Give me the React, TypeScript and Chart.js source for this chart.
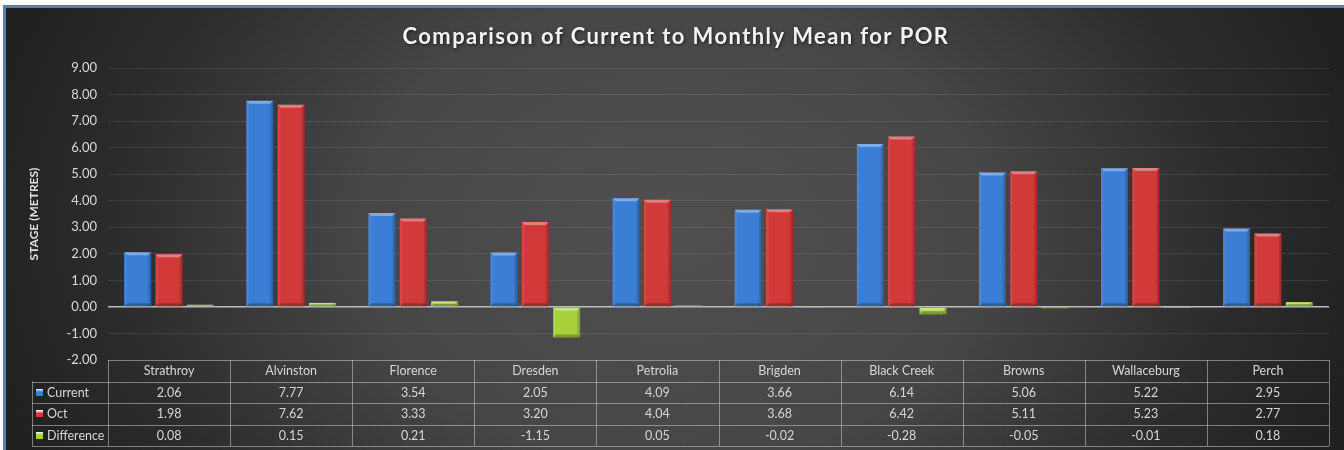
import React, { useEffect, useRef } from "react";
import { Chart, registerables } from "chart.js";

Chart.register(...registerables);

const TITLE = "Comparison of Current to Monthly Mean for POR";
const Y_TITLE = "STAGE (METRES)";
const categories = ["Strathroy", "Alvinston", "Florence", "Dresden", "Petrolia", "Brigden", "Black Creek", "Browns", "Wallaceburg", "Perch"];
const currentValues = [2.06, 7.77, 3.54, 2.05, 4.09, 3.66, 6.14, 5.06, 5.22, 2.95];
const octValues = [1.98, 7.62, 3.33, 3.2, 4.04, 3.68, 6.42, 5.11, 5.23, 2.77];
const differenceValues = [0.08, 0.15, 0.21, -1.15, 0.05, -0.02, -0.28, -0.05, -0.01, 0.18];
const seriesNames = ["Current", "Oct", "Difference"];
const seriesColors = ["#3b7ed6", "#d23a3a", "#a8d13c"];

const FONT = "Lato, 'Open Sans', sans-serif";

const backgroundPlugin = {
  id: "bgPlugin",
  beforeDraw(chart: any) {
    const { ctx, width, height } = chart;
    ctx.save();
    ctx.fillStyle = "#ffffff";
    ctx.fillRect(0, 0, width, height);
    ctx.fillStyle = "#4f81bd";
    ctx.fillRect(3, 5, width - 3, height - 5);
    ctx.beginPath();
    ctx.rect(6, 8, width - 6, height - 8);
    ctx.clip();
    const cx = 672, cy = 230;
    ctx.translate(cx, cy);
    ctx.scale(1, 0.75);
    const g = ctx.createRadialGradient(0, 0, 0, 0, 0, 700);
    g.addColorStop(0, "#505050");
    g.addColorStop(0.45, "#464646");
    g.addColorStop(0.8, "#2c2c2c");
    g.addColorStop(1, "#212121");
    ctx.fillStyle = g;
    ctx.fillRect(-cx - 10, -cy / 0.75 - 10, width + 30, height / 0.75 + 20);
    ctx.restore();

    // title
    ctx.save();
    ctx.fillStyle = "#f2f2f2";
    ctx.font = `bold 22px ${FONT}`;
    (ctx as any).letterSpacing = "1.4px";
    ctx.textAlign = "center";
    ctx.textBaseline = "middle";
    ctx.shadowColor = "rgba(0,0,0,0.6)";
    ctx.shadowBlur = 3;
    ctx.shadowOffsetX = 1;
    ctx.shadowOffsetY = 1;
    ctx.fillText(TITLE, width / 2 + 4, 37);
    ctx.restore();

    // y title
    ctx.save();
    ctx.fillStyle = "#e0e0e0";
    ctx.font = `bold 12px ${FONT}`;
    ctx.translate(34, (chart.chartArea.top + chart.chartArea.bottom) / 2);
    ctx.rotate(-Math.PI / 2);
    ctx.textAlign = "center";
    ctx.textBaseline = "middle";
    ctx.fillText(Y_TITLE, 0, 0);
    ctx.restore();
  },
};

const bevelPlugin = {
  id: "bevelPlugin",
  afterDatasetsDraw(chart: any) {
    const { ctx } = chart;
    ctx.save();
    chart.data.datasets.forEach((_: any, di: number) => {
      const meta = chart.getDatasetMeta(di);
      meta.data.forEach((bar: any) => {
        const { x, y, base, width } = bar.getProps(["x", "y", "base", "width"], true);
        const l = x - width / 2;
        const r = x + width / 2;
        const t = Math.min(y, base);
        const b = Math.max(y, base);
        const h = b - t;
        if (h < 0.5) return;
        const bv = Math.min(3, h / 2);
        const g = ctx.createLinearGradient(l, 0, r, 0);
        g.addColorStop(0, "rgba(255,255,255,0.10)");
        g.addColorStop(0.12, "rgba(255,255,255,0.0)");
        g.addColorStop(0.85, "rgba(0,0,0,0.0)");
        g.addColorStop(1, "rgba(0,0,0,0.28)");
        ctx.fillStyle = g;
        ctx.fillRect(l, t, width, h);
        ctx.fillStyle = "rgba(255,255,255,0.35)";
        ctx.beginPath();
        ctx.moveTo(l, t);
        ctx.lineTo(r, t);
        ctx.lineTo(r - bv, t + bv);
        ctx.lineTo(l + bv, t + bv);
        ctx.closePath();
        ctx.fill();
        ctx.fillStyle = "rgba(0,0,0,0.25)";
        ctx.beginPath();
        ctx.moveTo(l, b);
        ctx.lineTo(r, b);
        ctx.lineTo(r - bv, b - bv);
        ctx.lineTo(l + bv, b - bv);
        ctx.closePath();
        ctx.fill();
      });
    });
    ctx.restore();
  },
};

const tablePlugin = {
  id: "tablePlugin",
  afterDraw(chart: any) {
    const { ctx, chartArea } = chart;
    const xs = chart.scales.x;
    const left = chartArea.left;
    const right = chartArea.right;
    const colW = (right - left) / categories.length;
    const top = chartArea.bottom;
    const rowH = 21.5;
    const legendLeft = 32;
    const rows = [currentValues, octValues, differenceValues];
    ctx.save();
    ctx.strokeStyle = "rgba(200,200,200,0.55)";
    ctx.lineWidth = 1;
    const px = (v: number) => Math.round(v) + 0.5;
    ctx.beginPath();
    ctx.moveTo(left, px(top));
    ctx.lineTo(right, px(top));
    for (let r = 1; r <= 4; r++) {
      const yy = px(top + r * rowH);
      ctx.moveTo(legendLeft, yy);
      ctx.lineTo(right, yy);
    }
    for (let c = 0; c <= categories.length; c++) {
      const xx = px(left + c * colW);
      ctx.moveTo(xx, top);
      ctx.lineTo(xx, top + 4 * rowH);
    }
    ctx.moveTo(px(legendLeft), top + rowH);
    ctx.lineTo(px(legendLeft), top + 4 * rowH);
    ctx.stroke();

    ctx.fillStyle = "#d6d6d6";
    ctx.font = `12.5px ${FONT}`;
    ctx.textAlign = "center";
    ctx.textBaseline = "middle";
    categories.forEach((c, i) => {
      const cx = xs.getPixelForValue(i);
      ctx.fillText(c, cx, top + rowH / 2 + 0.5);
      rows.forEach((vals, r) => {
        ctx.fillText(vals[i].toFixed(2), cx, top + (r + 1) * rowH + rowH / 2 + 0.5);
      });
    });
    ctx.textAlign = "left";
    seriesNames.forEach((n, r) => {
      const cy = top + (r + 1) * rowH + rowH / 2;
      const g = ctx.createLinearGradient(0, cy - 3.5, 0, cy + 3.5);
      g.addColorStop(0, "#ffffff");
      g.addColorStop(0.45, seriesColors[r]);
      g.addColorStop(1, seriesColors[r]);
      ctx.fillStyle = g;
      ctx.fillRect(36, Math.round(cy - 3.5), 7, 7);
      ctx.fillStyle = "#d6d6d6";
      ctx.fillText(n, 47, cy + 0.5);
    });
    ctx.restore();
  },
};

export default function App() {
  const ref = useRef<HTMLCanvasElement | null>(null);
  useEffect(() => {
    if (!ref.current) return;
    const chart = new Chart(ref.current, {
      type: "bar",
      data: {
        labels: categories,
        datasets: [
          { label: seriesNames[0], data: currentValues, backgroundColor: seriesColors[0] },
          { label: seriesNames[1], data: octValues, backgroundColor: seriesColors[1] },
          { label: seriesNames[2], data: differenceValues, backgroundColor: seriesColors[2] },
        ],
      },
      options: {
        animation: false,
        responsive: false,
        maintainAspectRatio: false,
        devicePixelRatio: 1,
        layout: { padding: { left: 23, right: 15, top: 68, bottom: 90 } },
        datasets: { bar: { categoryPercentage: 0.77, barPercentage: 0.86 } } as any,
        plugins: {
          legend: { display: false },
          title: { display: false },
          tooltip: { enabled: false },
        },
        scales: {
          x: {
            display: false,
            grid: { display: false },
          },
          y: {
            min: -2,
            max: 9,
            afterFit: (s: any) => {
              s.width = 85;
            },
            ticks: {
              stepSize: 1,
              padding: 11,
              color: "#d9d9d9",
              font: { family: FONT, size: 13 },
              callback: (v: any) => Number(v).toFixed(2),
            },
            border: { display: false },
            grid: {
              drawTicks: false,
              color: (c: any) => (c.tick && c.tick.value === 0 ? "#bdbdbd" : c.tick && c.tick.value === -2 ? "rgba(0,0,0,0)" : "rgba(255,255,255,0.09)"),
              lineWidth: (c: any) => (c.tick && c.tick.value === 0 ? 1.5 : 1),
            },
          },
        },
      },
      plugins: [backgroundPlugin, bevelPlugin, tablePlugin],
    });
    return () => chart.destroy();
  }, []);
  return (
    <div style={{ position: "fixed", left: 0, top: 0, width: 1344, height: 450 }}>
      <canvas ref={ref} width={1344} height={450} style={{ display: "block", width: 1344, height: 450 }} />
    </div>
  );
}
